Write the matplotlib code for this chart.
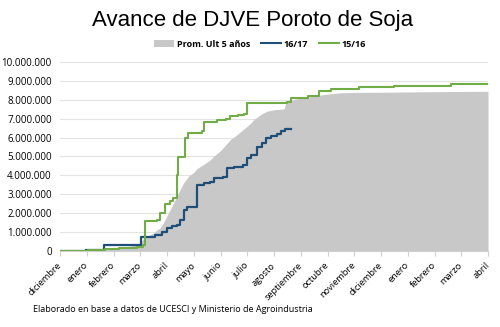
import matplotlib
matplotlib.use("Agg")
import matplotlib.pyplot as plt
from matplotlib.patches import Patch
from matplotlib.lines import Line2D
from matplotlib.ticker import FuncFormatter, MultipleLocator

# Month labels (first day of each month, Dec through April of the following-following year)
months = ["diciembre", "enero", "febrero", "marzo", "abril", "mayo", "junio",
          "julio", "agosto", "septiembre", "octubre", "noviembre", "diciembre",
          "enero", "febrero", "marzo", "abril"]

# Average of the last five seasons (x in months since 1 Dec, y in tonnes)
prom_x = [0, 1.0, 1.5, 2.0, 2.3, 2.8, 3.0, 3.11, 3.3, 3.49, 3.62, 3.74, 3.86,
          4.05, 4.24, 4.49, 4.62, 4.8, 5.0, 5.12, 5.4, 5.62, 5.74, 6.0, 6.37,
          6.62, 7.0, 7.12, 7.25, 7.5, 7.75, 8.0, 8.38, 8.44, 8.75, 9.26, 9.63,
          10.0, 10.5, 11.0, 12.1, 14.0, 16.0]
prom_y = [0, 10_000, 50_000, 100_000, 150_000, 300_000, 420_000, 620_000,
          800_000, 930_000, 1_100_000, 1_200_000, 1_460_000, 1_990_000,
          2_520_000, 3_230_000, 3_590_000, 3_940_000, 4_150_000, 4_350_000,
          4_600_000, 4_820_000, 5_000_000, 5_300_000, 5_890_000, 6_150_000,
          6_600_000, 6_750_000, 6_950_000, 7_220_000, 7_400_000, 7_470_000,
          7_520_000, 7_840_000, 8_020_000, 8_140_000, 8_230_000, 8_300_000,
          8_370_000, 8_390_000, 8_400_000, 8_430_000, 8_450_000]

# Season 16/17
c1617_x = [0, 0.98, 1.2, 1.64, 2.99, 3.03, 3.55, 3.8, 3.99, 4.2, 4.37, 4.5,
           4.62, 4.75, 5.12, 5.4, 5.6, 5.75, 6.1, 6.25, 6.5, 6.85, 7.0, 7.15,
           7.35, 7.55, 7.7, 7.9, 8.1, 8.25, 8.4, 8.63]
c1617_y = [0, 20_000, 50_000, 280_000, 300_000, 750_000, 830_000, 1_000_000,
           1_190_000, 1_300_000, 1_370_000, 1_630_000, 2_160_000, 2_340_000,
           3_490_000, 3_580_000, 3_650_000, 3_880_000, 3_920_000, 4_380_000,
           4_450_000, 4_550_000, 4_900_000, 5_050_000, 5_500_000, 5_720_000,
           6_000_000, 6_100_000, 6_200_000, 6_350_000, 6_450_000, 6_470_000]

# Season 15/16
c1516_x = [0, 1.05, 1.42, 1.67, 2.2, 2.86, 3.1, 3.18, 3.62, 3.74, 3.93, 4.12,
           4.24, 4.37, 4.42, 4.68, 4.8, 5.31, 5.37, 5.87, 6.2, 6.37, 6.65,
           6.87, 7.0, 8.5, 8.63, 9.26, 9.68, 10.13, 11.18, 12.5, 13.5, 14.6, 16.0]
c1516_y = [0, 20_000, 50_000, 80_000, 120_000, 210_000, 300_000, 1_580_000,
           1_650_000, 2_000_000, 2_450_000, 2_650_000, 2_800_000, 4_000_000,
           4_950_000, 6_000_000, 6_220_000, 6_320_000, 6_820_000, 6_920_000,
           7_000_000, 7_120_000, 7_180_000, 7_250_000, 7_840_000, 7_900_000,
           8_100_000, 8_180_000, 8_460_000, 8_580_000, 8_690_000, 8_720_000,
           8_750_000, 8_810_000, 8_850_000]

FONT = "Open Sans"
GRAY = "#C8C8C8"
BLUE = "#1F4E79"
GREEN = "#70AD47"

fig = plt.figure(figsize=(5.0, 3.27), dpi=100)
ax = fig.add_axes([0.12, 0.2333, 0.856, 0.577])

ax.fill_between(prom_x, prom_y, 0, color=GRAY, linewidth=0, zorder=2)
ax.plot(c1617_x, c1617_y, drawstyle="steps-post", color=BLUE, lw=1.6, zorder=3)
ax.plot(c1516_x, c1516_y, drawstyle="steps-post", color=GREEN, lw=1.5, zorder=4)

ax.set_xlim(0, 16)
ax.set_ylim(0, 10_000_000)
ax.yaxis.set_major_locator(MultipleLocator(1_000_000))
ax.yaxis.set_major_formatter(FuncFormatter(lambda v, p: f"{int(v):,}".replace(",", ".")))
ax.grid(axis="y", color="#E3E3E3", lw=0.8, zorder=0)
ax.set_axisbelow(True)

ax.set_xticks(range(len(months)))
ax.set_xticklabels(months, rotation=45, ha="right", va="center",
                   rotation_mode="anchor", fontsize=6.7, family=FONT)
ax.tick_params(axis="x", length=3.5, color="#D0D0D0", pad=6)
ax.tick_params(axis="y", length=0, pad=6, labelsize=7)
for lbl in ax.get_yticklabels():
    lbl.set_family(FONT)

for s in ("top", "right", "left"):
    ax.spines[s].set_visible(False)
ax.spines["bottom"].set_color("#D0D0D0")

fig.text(0.505, 0.937, "Avance de DJVE Poroto de Soja", ha="center", va="center",
         fontsize=16, family="Liberation Sans", weight="medium")

handles = [Patch(facecolor=GRAY, edgecolor="none"),
           Line2D([], [], color=BLUE, lw=1.5),
           Line2D([], [], color=GREEN, lw=1.5)]
fig.legend(handles, ["Prom. Ult 5 años", "16/17", "15/16"], loc="center",
           bbox_to_anchor=(0.52, 0.865), ncol=3, frameon=False,
           prop={"family": FONT, "size": 6.5, "weight": "bold"},
           handlelength=2.2, handleheight=0.8, handletextpad=0.3,
           columnspacing=1.2)

fig.text(0.066, 0.052, "Elaborado en base a datos de UCESCI y Ministerio de Agroindustria",
         ha="left", va="center", fontsize=6.5, family=FONT)

fig.savefig("out.png", dpi=100)
